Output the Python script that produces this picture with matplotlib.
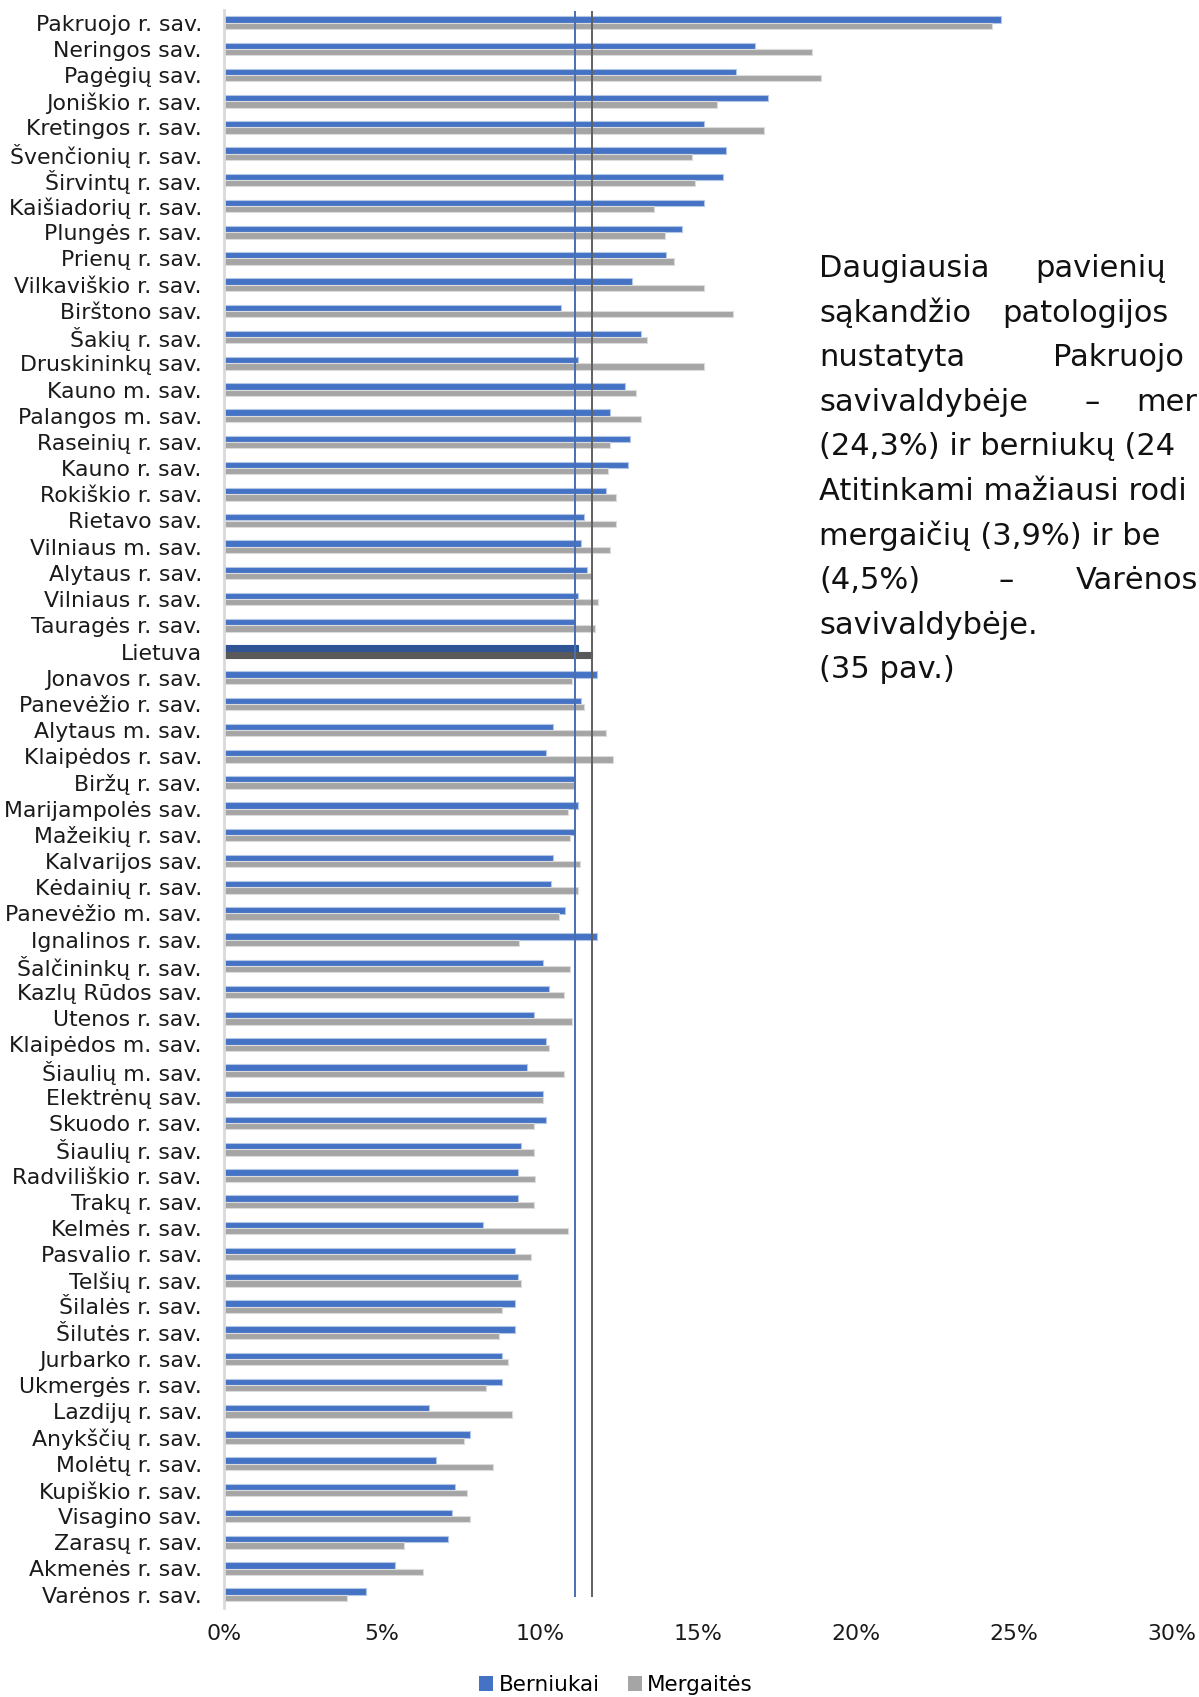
import matplotlib
matplotlib.use('Agg')
import matplotlib.pyplot as plt
import numpy as np
from matplotlib.patches import Patch

# ---------------- data ----------------
categories = [
    "Pakruojo r. sav.", "Neringos sav.", "Pagėgių sav.", "Joniškio r. sav.",
    "Kretingos r. sav.", "Švenčionių r. sav.", "Širvintų r. sav.",
    "Kaišiadorių r. sav.", "Plungės r. sav.", "Prienų r. sav.",
    "Vilkaviškio r. sav.", "Birštono sav.", "Šakių r. sav.",
    "Druskininkų sav.", "Kauno m. sav.", "Palangos m. sav.",
    "Raseinių r. sav.", "Kauno r. sav.", "Rokiškio r. sav.", "Rietavo sav.",
    "Vilniaus m. sav.", "Alytaus r. sav.", "Vilniaus r. sav.",
    "Tauragės r. sav.", "Lietuva", "Jonavos r. sav.", "Panevėžio r. sav.",
    "Alytaus m. sav.", "Klaipėdos r. sav.", "Biržų r. sav.",
    "Marijampolės sav.", "Mažeikių r. sav.", "Kalvarijos sav.",
    "Kėdainių r. sav.", "Panevėžio m. sav.", "Ignalinos r. sav.",
    "Šalčininkų r. sav.", "Kazlų Rūdos sav.", "Utenos r. sav.",
    "Klaipėdos m. sav.", "Šiaulių m. sav.", "Elektrėnų sav.",
    "Skuodo r. sav.", "Šiaulių r. sav.", "Radviliškio r. sav.",
    "Trakų r. sav.", "Kelmės r. sav.", "Pasvalio r. sav.", "Telšių r. sav.",
    "Šilalės r. sav.", "Šilutės r. sav.", "Jurbarko r. sav.",
    "Ukmergės r. sav.", "Lazdijų r. sav.", "Anykščių r. sav.",
    "Molėtų r. sav.", "Kupiškio r. sav.", "Visagino sav.", "Zarasų r. sav.",
    "Akmenės r. sav.", "Varėnos r. sav.",
]

boys = [
    24.6, 16.8, 16.2, 17.2, 15.2, 15.9, 15.8, 15.2, 14.5, 14.0,
    12.9, 10.65, 13.2, 11.2, 12.7, 12.2, 12.85, 12.8, 12.1, 11.4,
    11.3, 11.5, 11.2, 11.1, 11.2, 11.8, 11.3, 10.4, 10.2, 11.1,
    11.2, 11.1, 10.4, 10.35, 10.8, 11.8, 10.1, 10.3, 9.8, 10.2,
    9.6, 10.1, 10.2, 9.4, 9.3, 9.3, 8.2, 9.2, 9.3, 9.2,
    9.2, 8.8, 8.8, 6.5, 7.8, 6.7, 7.3, 7.2, 7.1, 5.4,
    4.5,
]

girls = [
    24.3, 18.6, 18.9, 15.6, 17.1, 14.8, 14.9, 13.6, 13.95, 14.25,
    15.2, 16.1, 13.4, 15.2, 13.05, 13.2, 12.2, 12.15, 12.4, 12.4,
    12.2, 11.65, 11.85, 11.75, 11.65, 11.0, 11.4, 12.1, 12.3, 11.1,
    10.9, 10.95, 11.25, 11.2, 10.6, 9.35, 10.95, 10.75, 11.0, 10.3,
    10.75, 10.1, 9.8, 9.8, 9.85, 9.8, 10.9, 9.7, 9.4, 8.8,
    8.7, 9.0, 8.3, 9.1, 7.6, 8.5, 7.7, 7.8, 5.7, 6.3,
    3.9,
]

boys_ref_line = 11.1
girls_ref_line = 11.65

x_ticks = [0, 5, 10, 15, 20, 25, 30]
x_tick_labels = ["0%", "5%", "10%", "15%", "20%", "25%", "30%"]
series_names = ["Berniukai", "Mergaitės"]
highlight = "Lietuva"

# ---------------- style ----------------
plt.rcParams['font.family'] = ['DejaVu Sans']

BLUE = '#4472c4'
GRAY = '#a5a5a5'
BLUE_DARK = '#2f5597'
GRAY_DARK = '#595959'

W, H = 1199, 1697
fig = plt.figure(figsize=(W / 100, H / 100), dpi=100)

ax_top_px, ax_bot_px = 9.6, 1607.8
ax_left_px, ax_right_px = 224, 1172
ax = fig.add_axes([ax_left_px / W, 1 - ax_bot_px / H,
                   (ax_right_px - ax_left_px) / W, (ax_bot_px - ax_top_px) / H])

y = np.arange(len(categories))
h = 0.24
boy_colors = [BLUE_DARK if c == highlight else BLUE for c in categories]
girl_colors = [GRAY_DARK if c == highlight else GRAY for c in categories]
boy_edges = ['#2f5597' if c == highlight else '#b4c7e7' for c in categories]
girl_edges = ['#595959' if c == highlight else '#dcdcdc' for c in categories]

ax.barh(y - h / 2, boys, height=h, color=boy_colors, edgecolor=boy_edges,
        linewidth=0.8, zorder=2)
ax.barh(y + h / 2, girls, height=h, color=girl_colors, edgecolor=girl_edges,
        linewidth=0.8, zorder=2)

n = len(categories)
ax.plot([boys_ref_line, boys_ref_line], [-0.45, n - 0.9], color='#4a6fb0',
        lw=1.4, zorder=3, solid_capstyle='butt')
ax.plot([girls_ref_line, girls_ref_line], [-0.45, n - 0.9], color='#606060',
        lw=1.4, zorder=3, solid_capstyle='butt')

ax.set_xlim(0, 30)
ax.set_ylim(n - 0.5, -0.5)
ax.set_yticks(y)
ax.set_yticklabels(categories, fontsize=15.8, color='#1a1a1a')
ax.set_xticks(x_ticks)
ax.set_xticklabels(x_tick_labels, fontsize=15.8, color='#1a1a1a')
ax.tick_params(axis='y', length=0, pad=16)
ax.tick_params(axis='x', length=0, pad=12)
for s in ['top', 'right', 'bottom']:
    ax.spines[s].set_visible(False)
ax.spines['left'].set_color('#d9d9d9')
ax.spines['left'].set_linewidth(2)

# legend
handles = [Patch(facecolor=BLUE), Patch(facecolor=GRAY)]
fig.legend(handles, series_names, loc='center', bbox_to_anchor=(616 / W, 1 - 1685 / H),
           ncol=2, frameon=False, fontsize=15.5, handlelength=0.65, handleheight=0.65,
           handletextpad=0.25, columnspacing=1.3, borderpad=0.1)

# side text (justified block, cut at the right edge as in the source)
x0 = 819
base0 = 277
lh = 44.6
tfs = 22
lines = [
    [(x0, "Daugiausia"), (1035, "pavienių")],
    [(x0, "sąkandžio"), (1002, "patologijos")],
    [(x0, "nustatyta"), (1053, "Pakruojo")],
    [(x0, "savivaldybėje"), (1085, "–"), (1136, "mer")],
    [(x0, "(24,3%) ir berniukų (24")],
    [(x0, "Atitinkami mažiausi rodi")],
    [(x0, "mergaičių (3,9%) ir be")],
    [(x0, "(4,5%)"), (998, "–"), (1076, "Varėnos")],
    [(x0, "savivaldybėje.")],
    [(x0, "(35 pav.)")],
]
for i, line in enumerate(lines):
    yb = base0 + i * lh
    for xp, word in line:
        fig.text(xp / W, 1 - yb / H, word, fontsize=tfs, color='#111111',
                 ha='left', va='baseline')

fig.savefig('out.png', dpi=100)
